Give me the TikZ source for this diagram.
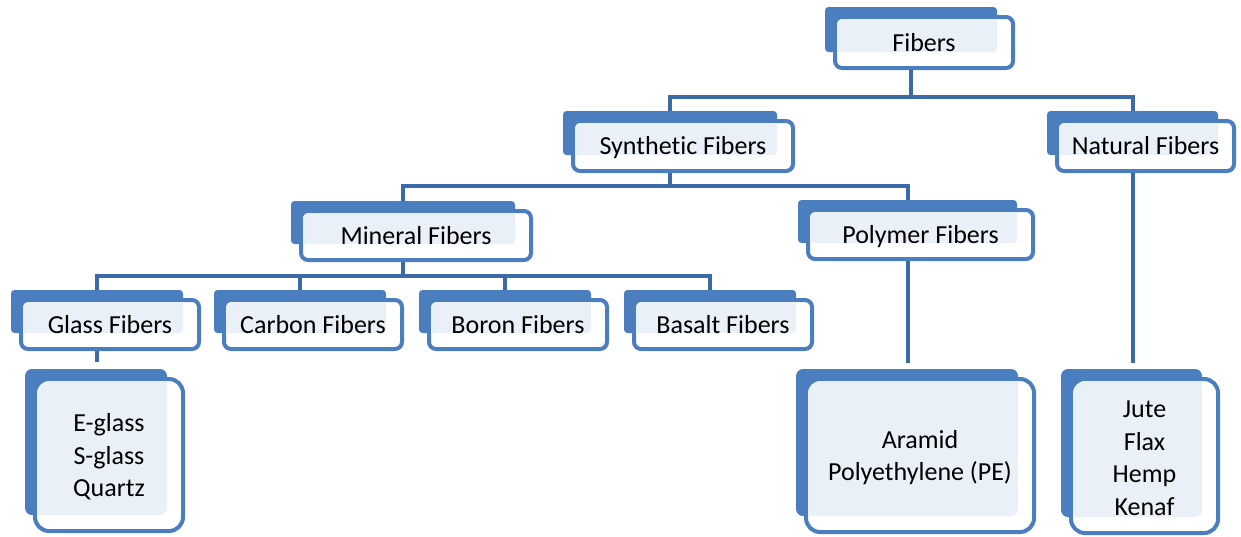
\documentclass[tikz,border=0pt]{standalone}
\usepackage{fontspec}
\setmainfont{Carlito}[Ligatures=NoCommon]
\usepackage{tikz}
\usetikzlibrary{calc,backgrounds}
\definecolor{boxblue}{HTML}{4A7EBF}
\definecolor{linkblue}{HTML}{3A6BA8}
\definecolor{boxlight}{HTML}{EAF0F8}
\tikzset{
  backbox/.style={fill=boxblue,inner sep=0pt,outer sep=0pt},
  frontbox/.style={draw=boxblue,line width=4pt,fill=white},
  link/.style={draw=linkblue,line width=4pt},
  boxtext/.style={font=\fontsize{26}{32.5}\selectfont,align=center,inner sep=0pt,anchor=base},
  listtext/.style={font=\fontsize{26}{32.5}\selectfont,align=center,inner sep=0pt}
}
\newcommand{\fiberbox}[5]{%
  \node[backbox,rounded corners=#1/2,minimum width=#4,minimum height=#5] (#2) at (#3) {};
  \draw[frontbox,rounded corners=#1] ($(#2.north west)+(10,10)$) rectangle ($(#2.south east)+(16,16)$);
  \begin{scope}
    \clip[rounded corners=#1] ($(#2.north west)+(12,12)$) rectangle ($(#2.south east)+(14,14)$);
    \fill[boxlight,rounded corners=#1/2] (#2.north west) rectangle (#2.south east);
  \end{scope}}
\begin{document}
\begin{tikzpicture}[x=1pt,y=-1pt]
                      \useasboundingbox (0,0) rectangle (1241,536);
                      \fiberbox{7}{fib}{911,29.5}{172}{45}
                      \fiberbox{7}{syn}{670,133}{214}{44}
                      \fiberbox{7}{nat}{1132.5,133}{171}{44}
                      \fiberbox{7}{min}{403,222.5}{224}{43}
                      \fiberbox{7}{pol}{907.5,221.5}{219}{43}
                      \fiberbox{7}{glass}{97,311.5}{172}{43}
                      \fiberbox{7}{carbon}{300,311.5}{172}{43}
                      \fiberbox{7}{boron}{505,311.5}{172}{43}
                      \fiberbox{7}{basalt}{710,311.5}{172}{43}
                      \fiberbox{14}{eglass}{96,442}{142}{146}
                      \fiberbox{14}{aramid}{907,442.5}{222}{147}
                      \fiberbox{14}{jute}{1131.5,443}{141}{148}
                      \node[boxtext](fib-t)at($(fib.center)+(13,21.5)$){Fibers};
                      \node[boxtext](syn-t)at($(syn.center)+(13,21.5)$){Synthetic Fibers};
                      \node[boxtext](nat-t)at($(nat.center)+(13,21.5)$){Natural Fibers};
                      \node[boxtext](min-t)at($(min.center)+(13,21.5)$){Mineral Fibers};
                      \node[boxtext](pol-t)at($(pol.center)+(13,21.5)$){Polymer Fibers};
                      \node[boxtext](glass-t)at($(glass.center)+(13,21.5)$){Glass Fibers};
                      \node[boxtext](carbon-t)at($(carbon.center)+(13,21.5)$){Carbon Fibers};
                      \node[boxtext](boron-t)at($(boron.center)+(13,21.5)$){Boron Fibers};
                      \node[boxtext](basalt-t)at($(basalt.center)+(13,21.5)$){Basalt Fibers};
                      \node[listtext](eglass-t)at($(eglass.center)+(13,15)$){E-glass\\S-glass\\Quartz};
                      \node[listtext](aramid-t)at($(aramid.center)+(13,15)$){Aramid\\Polyethylene (PE)};
                      \node[listtext](jute-t)at($(jute.center)+(13,15)$){Jute\\Flax\\Hemp\\Kenaf};
                      \begin{scope}[on background layer]
                      \coordinate (bus1) at (0,97);
                      \coordinate (bus2) at (0,186);
                      \coordinate (bus3) at (0,276);
                      \draw[link] (fib.south) -- (fib.south |- bus1) -| (syn.north);
                      \draw[link] (fib.south |- bus1) -| (nat.north);
                      \draw[link] (syn.south) -- (syn.south |- bus2) -| (min.north);
                      \draw[link] (syn.south |- bus2) -| (pol.north);
                      \draw[link] (min.south) -- (min.south |- bus3) -| (glass.north);
                      \draw[link] (min.south |- bus3) -| (basalt.north);
                      \draw[link] (carbon.north) -- (carbon.north |- bus3);
                      \draw[link] (boron.north) -- (boron.north |- bus3);
                      \draw[link] (glass.south) -- ($(glass.south |- eglass.north)+(0,-7)$);
                      \draw[link] (pol.south) -- ($(pol.south |- aramid.north)+(0,-6)$);
                      \draw[link] (nat.south) -- ($(nat.south |- jute.north)+(0,-6)$);
                      \end{scope}
                  \end{tikzpicture}
\end{document}
